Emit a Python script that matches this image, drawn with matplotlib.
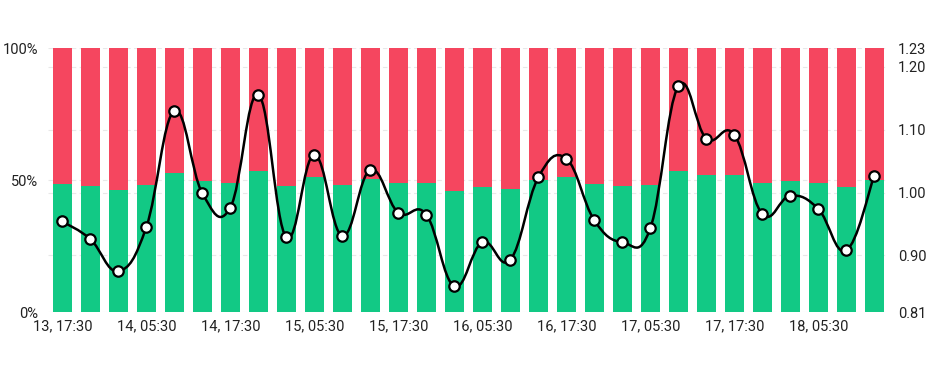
import numpy as np
import matplotlib
matplotlib.use("Agg")
import matplotlib.pyplot as plt
from matplotlib.path import Path
from matplotlib.patches import PathPatch

# share of buyers (green) per 4h bar, sellers fill the rest up to 100%
green_share = [0.484, 0.476, 0.462, 0.481, 0.525, 0.495, 0.489, 0.533, 0.479, 0.511,
               0.480, 0.505, 0.487, 0.487, 0.457, 0.475, 0.467, 0.501, 0.510, 0.484,
               0.476, 0.481, 0.534, 0.518, 0.519, 0.487, 0.495, 0.487, 0.472, 0.501]

# ratio line on the right axis
ratio = [0.954, 0.926, 0.875, 0.945, 1.130, 0.999, 0.976, 1.156, 0.929, 1.060,
         0.931, 1.036, 0.968, 0.965, 0.851, 0.921, 0.893, 1.024, 1.054, 0.956,
         0.921, 0.943, 1.169, 1.086, 1.092, 0.966, 0.995, 0.974, 0.908, 1.027]

tick_labels = ["13, 17:30", "14, 05:30", "14, 17:30", "15, 05:30", "15, 17:30",
               "16, 05:30", "16, 17:30", "17, 05:30", "17, 17:30", "18, 05:30"]

right_ticks = [0.81, 0.90, 1.00, 1.10, 1.20, 1.23]

GREEN = "#12c985"
RED = "#f5465f"
plt.rcParams['font.family'] = ['Roboto', 'DejaVu Sans']

fig = plt.figure(figsize=(9.27, 3.75), dpi=100)
ax = fig.add_axes([0.0521, 0.168, 0.9061, 0.704])
ax2 = ax.twinx()

x = np.arange(len(green_share))
g = np.array(green_share)
ax.bar(x, g, width=0.68, color=GREEN, zorder=2)
ax.bar(x, 1 - g, bottom=g, width=0.68, color=RED, zorder=2)

ax.set_xlim(-0.5, len(x) - 0.5)
ax.set_ylim(0, 1)
ax.set_yticks([0, 0.5, 1])
ax.set_yticklabels(["0%", "50%", "100%"])
ax.set_xticks(x[::3])
ax.set_xticklabels(tick_labels)

lo, hi = 0.81, 1.23
ax2.set_ylim(lo, hi)
ax2.set_yticks(right_ticks)
ax2.set_yticklabels(["%.2f" % t for t in right_ticks])

for a in (ax, ax2):
    for s in a.spines.values():
        s.set_visible(False)
    a.tick_params(length=0, labelsize=10.5, colors="#222222")
ax.tick_params(axis="y", pad=7)
ax.tick_params(axis="x", pad=5)
ax2.tick_params(axis="y", pad=7)

# faint dashed grid, kept behind the bars
for t in right_ticks:
    ax.axhline((t - lo) / (hi - lo), color="#e8e8e8", lw=0.8, ls=(0, (4, 3)), zorder=0)
ax.axhline(0.5, color="#e8e8e8", lw=0.8, ls=(0, (4, 3)), zorder=0)

# smooth curve through the points (cubic bezier segments)
pts = np.column_stack([x, ratio])
s = 0.2
verts = [tuple(pts[0])]
codes = [Path.MOVETO]
for i in range(len(pts) - 1):
    p0 = pts[i - 1] if i > 0 else pts[i]
    p1 = pts[i]
    p2 = pts[i + 1]
    p3 = pts[i + 2] if i + 2 < len(pts) else pts[i + 1]
    c1 = p1 + (p2 - p0) * s
    c2 = p2 - (p3 - p1) * s
    verts += [tuple(c1), tuple(c2), tuple(p2)]
    codes += [Path.CURVE4] * 3
ax2.add_patch(PathPatch(Path(verts, codes), fill=False, edgecolor="black", lw=1.8, zorder=3))
ax2.plot(x, ratio, ls="none", marker="o", ms=7.5, mfc="white", mec="black", mew=1.6, zorder=4)

fig.savefig("out.png", dpi=100)
